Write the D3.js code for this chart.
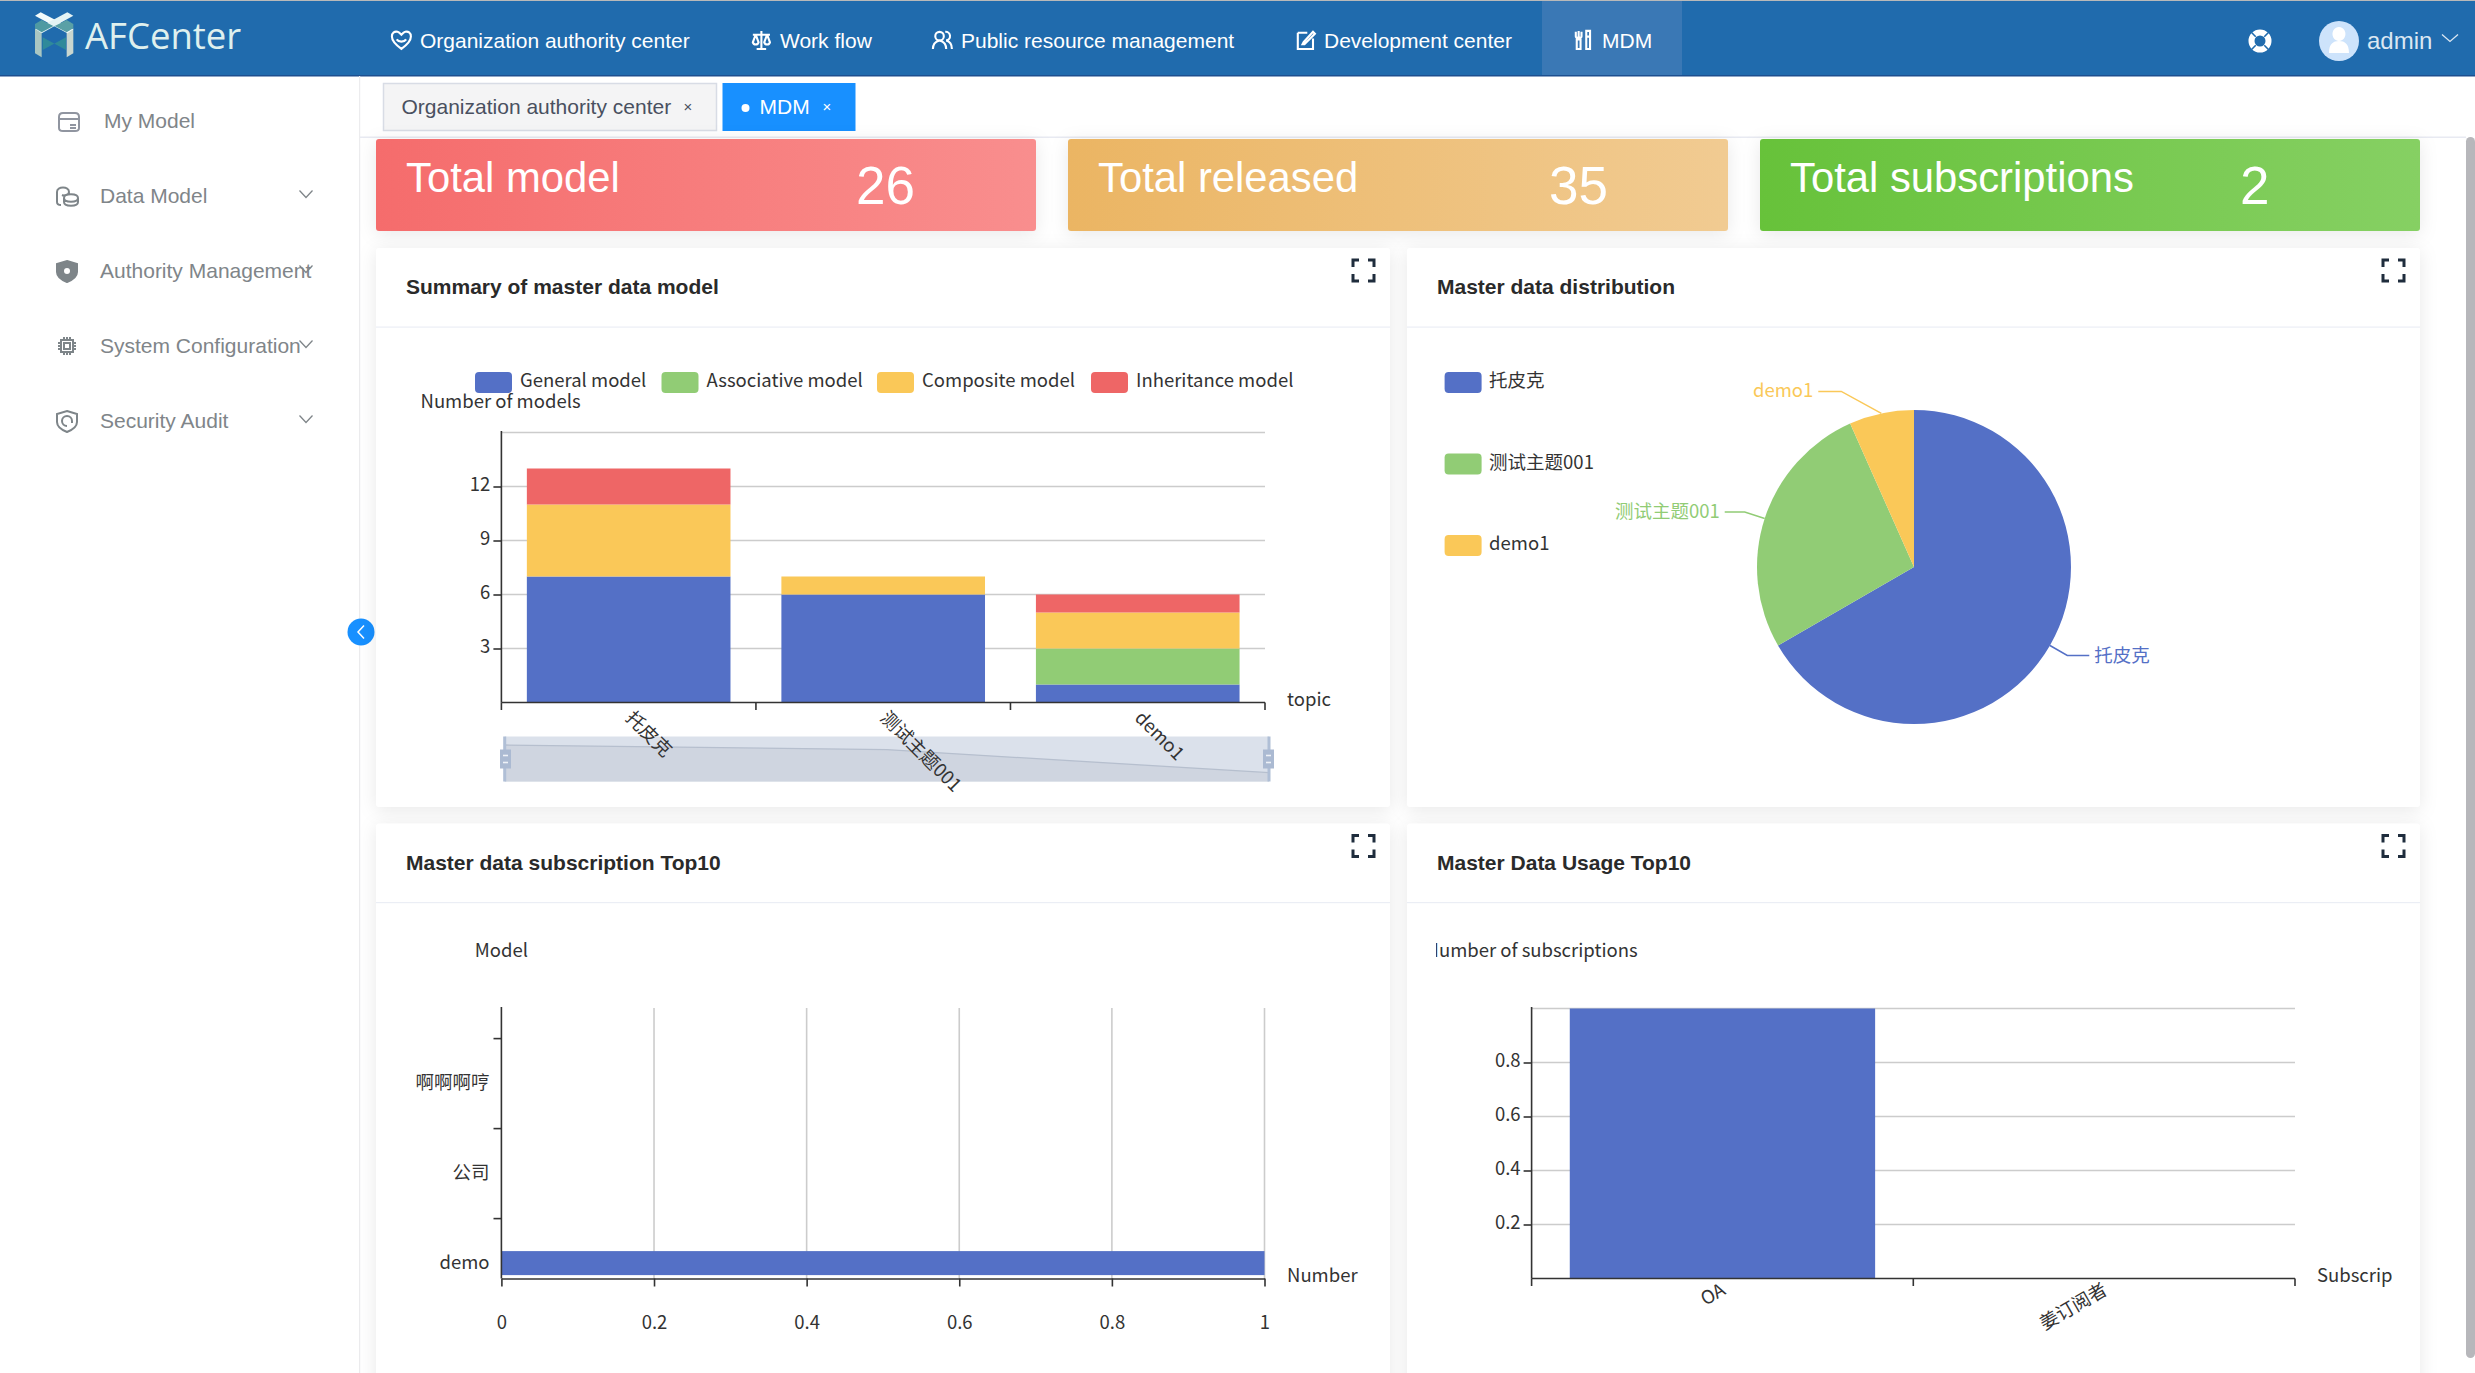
<!DOCTYPE html>
<html>
<head>
<meta charset="utf-8">
<script src="https://cdn.jsdelivr.net/npm/d3@7"></script>
<style>
  html, body { margin: 0; padding: 0; background: #fff; overflow: hidden; }
  svg { display: block; }
  .ui { font-family: "Liberation Sans", Arial, sans-serif; }
  .ch { font-family: "Noto Sans CJK SC", "Noto Sans", sans-serif; font-size: 18.5px; fill: #333; }
  .ch text { font-family: "Noto Sans CJK SC", "Noto Sans", sans-serif; font-size: 18.5px; fill: #333; }
  .card { filter: drop-shadow(0 3px 9px rgba(0,0,0,.09)); }
</style>
</head>
<body>
<svg id="page" width="2475" height="1373"></svg>
<script>
// chart values
const modelTypes = ["General model", "Associative model", "Composite model", "Inheritance model"]
const topics = ["托皮克", "测试主题001", "demo1"]
const generalModel = [7, 6, 1]
const associativeModel = [0, 0, 2]
const compositeModel = [4, 1, 2]
const inheritanceModel = [2, 0, 1]
const summaryTicks = [3, 6, 9, 12]
const summaryGrid = [3, 6, 9, 12, 15]

const pieNames = ["托皮克", "测试主题001", "demo1"]
const pieValues = [10, 4, 1]

const subModels = ["demo", "公司", "啊啊啊哼"]
const subValues = [1, 0, 0]
const subTicks = [0, 0.2, 0.4, 0.6, 0.8, 1]

const usageNames = ["OA", "姜订阅者"]
const usageValues = [1, 0]
const usageTicks = [0.2, 0.4, 0.6, 0.8]
const usageGrid = [0.2, 0.4, 0.6, 0.8, 1]

const statLabels = ["Total model", "Total released", "Total subscriptions"]
const statValues = [26, 35, 2]

const navLabels = ["Organization authority center", "Work flow", "Public resource management", "Development center", "MDM"]
const menuLabels = ["My Model", "Data Model", "Authority Management", "System Configuration", "Security Audit"]

const typeColor = d3.scaleOrdinal().domain(modelTypes).range(["#5470c6", "#91cc75", "#fac858", "#ee6666"])
const pieColor = d3.scaleOrdinal().domain(pieNames).range(["#5470c6", "#91cc75", "#fac858"])

const svg = d3.select("#page")
const defs = svg.append("defs")

function label(g, x, y, s, o = {}) {
  return g.append("text")
    .attr("x", x).attr("y", y)
    .attr("text-anchor", o.anchor || "start")
    .attr("dominant-baseline", o.central ? "central" : null)
    .style("fill", o.fill || null)
    .text(s)
}

function gradient(id, a, b) {
  const gr = defs.append("linearGradient").attr("id", id)
  gr.append("stop").attr("offset", 0).attr("stop-color", a)
  gr.append("stop").attr("offset", 1).attr("stop-color", b)
}
gradient("gRed", "#f56c6c", "#f98e8e")
gradient("gOrange", "#ebb563", "#f1cb92")
gradient("gGreen", "#67c23a", "#86d063")

defs.append("clipPath").attr("id", "usageCanvas")
  .append("rect").attr("x", 1436).attr("y", 900).attr("width", 956).attr("height", 470)

/* ---------- page chrome ---------- */
const chrome = svg.append("g").attr("class", "ui")

chrome.append("rect").attr("width", 2475).attr("height", 1).attr("fill", "#b9b9b9")
chrome.append("rect").attr("y", 1).attr("width", 2475).attr("height", 75).attr("fill", "#206bad")
chrome.append("rect").attr("y", 75).attr("width", 2475).attr("height", 1.5).attr("fill", "#1d4f8f")
chrome.append("rect").attr("x", 1542).attr("y", 1).attr("width", 140).attr("height", 74).attr("fill", "#3a78b5")

// logo
const logo = chrome.append("g").attr("transform", "translate(20,0) scale(0.3333)")
logo.append("path").attr("d", "M68 112L138 150V112L68 150Z").attr("fill", "#2f8a9a")
logo.append("path").attr("d", "M45 85L65 97V172L45 160Z").attr("fill", "#a9c6c2")
logo.append("path").attr("d", "M160 85L140 97V172L160 160Z").attr("fill", "#c9d6cf")
logo.append("path").attr("d", "M45 47L62 37L160 88L142 100Z").attr("fill", "#f2fbfb")
logo.append("path").attr("d", "M142 37L160 47L65 100L47 88Z").attr("fill", "#e4f3f4")
logo.append("path").attr("d", "M65 97L100 78L65 60L45 72V85Z").attr("fill", "#4f9aa2")
logo.append("path").attr("d", "M140 97L104 78L140 60L160 72V85Z").attr("fill", "#5aa0a6")
chrome.append("text").attr("x", 85).attr("y", 49).attr("font-size", 36.500)
  .attr("font-family", "'Open Sans','Noto Sans',sans-serif").attr("fill", "#dff0ee").text("AFCenter")

// top navigation
const navX = [420, 780, 961, 1324, 1602]
const navIcons = [
  "M12 21C5 16 2 12 2 8C2 4 5 2 8 3C10 3.600 11 5 12 6C13 5 14 3.600 16 3C19 2 22 4 22 8C22 12 19 16 12 21ZM7 11C9 14 15 14 17 11",
  "M12 2V21M7 21H17M3 6H21M6 6L3 14C4 17 8 17 9 14L6 6M18 6L15 14C16 17 20 17 21 14L18 6",
  "M9 3A4.500 4.500 0 0 1 9 12A4.500 4.500 0 0 1 9 3ZM2 21C2 16 5 13 9 12C13 13 16 16 16 21M15 3A4.500 4.500 0 0 1 16 12C20 13 22 16 22 21",
  "M4 4H14M4 4V21H20V10M10 14L20 3L22 5L11 16L9 16Z",
  "M7 2V10M4 3V8C4 10 10 10 10 8V3M5 11H9V21H5ZM15 2H19V8H15ZM15 8V21H19V8",
]
navLabels.forEach((s, i) => {
  chrome.append("text").attr("x", navX[i]).attr("y", 48).attr("font-size", 21).attr("fill", "#fff").text(s)
  chrome.append("path").attr("d", navIcons[i])
    .attr("transform", `translate(${navX[i] - 30},29) scale(0.95)`)
    .attr("fill", "none").attr("stroke", "#fff").attr("stroke-width", 2.2)
})

// settings, avatar, user name
const gear = chrome.append("g").attr("transform", "translate(2260,41)")
gear.append("circle").attr("r", 8.500).attr("fill", "none").attr("stroke", "#fff").attr("stroke-width", 6)
gear.selectAll("line").data([0, 90, 180, 270]).join("line")
  .attr("x1", 6).attr("x2", 13).attr("stroke", "#206bad").attr("stroke-width", 1.6)
  .attr("transform", (d) => `rotate(${d + 45})`)
chrome.append("circle").attr("cx", 2339).attr("cy", 41).attr("r", 20).attr("fill", "#cde3fb")
chrome.append("path").attr("d", "M2339 27a6.500 7 0 1 1-.1 0ZM2329 53C2329 44 2333 41 2339 41C2345 41 2349 44 2349 53Z").attr("fill", "#fff")
chrome.append("text").attr("x", 2367).attr("y", 49).attr("font-size", 24).attr("fill", "#dbe7f2").text("admin")
const chevron = (g, x, y, c, w = 8) => g.append("path")
  .attr("d", `M${x - w} ${y - 3.500}L${x} ${y + 3.500}L${x + w} ${y - 3.500}`)
  .attr("fill", "none").attr("stroke", c).attr("stroke-width", 1.3)
chevron(chrome, 2450, 38, "#dbe7f2")

// side menu
chrome.append("rect").attr("x", 359).attr("y", 76).attr("width", 1.2).attr("height", 1297).attr("fill", "#ececee")
const menuY = [121, 196, 271, 346, 421]
const menuX = [104, 100, 100, 100, 100]
const menuIcons = [
  ["M3 8Q3 4 7 4H19Q23 4 23 8V19Q23 22 19 22H7Q3 22 3 19ZM3 10H23M14 16H20M14 19H20", false],
  ["M2 8C2 2 14 2 14 8C14 11 9 12 7 11M2 8V18C2 20 4 21 6 21M9 14C9 9 23 9 23 14C23 19 9 19 9 14ZM9 14V18C9 23 23 23 23 18V14", false],
  ["M12 2L22 5V13C22 18 17 21 12 23C7 21 2 18 2 13V5Z", true],
  ["M6 6H18V18H6ZM9 9H15V15H9ZM3 9H6M3 12H6M3 15H6M18 9H21M18 12H21M18 15H21M9 3V6M12 3V6M15 3V6M9 18V21M12 18V21M15 18V21", false],
  ["M12 2L22 5V13C22 18 17 21 12 23C7 21 2 18 2 13V5ZM12 17A5 5 0 1 1 17 12V14", false],
]
menuLabels.forEach((s, i) => {
  chrome.append("text").attr("x", menuX[i]).attr("y", menuY[i] + 7).attr("font-size", 21).attr("fill", "#808589").text(s)
  chrome.append("path").attr("d", menuIcons[i][0])
    .attr("transform", `translate(${i === 0 ? 56 : 55},${menuY[i] - 12})`)
    .attr("fill", menuIcons[i][1] ? "#7e8589" : "none").attr("stroke", i === 0 ? "#9095a0" : "#7e8589").attr("stroke-width", 2)
  if (i === 2) chrome.append("circle").attr("cx", 67).attr("cy", menuY[i]).attr("r", 3).attr("fill", "#fff")
  if (i > 0) chevron(chrome, 306, menuY[i] - 2, "#7f8589", 6.500)
})

// tabs bar
chrome.append("rect").attr("x", 360).attr("y", 136.500).attr("width", 2106).attr("height", 1.5).attr("fill", "#e8eaf2")
chrome.append("rect").attr("x", 383.500).attr("y", 83.500).attr("width", 333).attr("height", 47)
  .attr("fill", "#f4f4f5").attr("stroke", "#d8dce5").attr("stroke-width", 1.5)
chrome.append("text").attr("x", 401.500).attr("y", 114).attr("font-size", 21).attr("fill", "#495060").text(navLabels[0])
chrome.append("text").attr("x", 688).attr("y", 112).attr("font-size", 15).attr("text-anchor", "middle").attr("fill", "#495060").text("×")
chrome.append("rect").attr("x", 722.500).attr("y", 83).attr("width", 133).attr("height", 48).attr("fill", "#1890ff")
chrome.append("circle").attr("cx", 745.500).attr("cy", 108).attr("r", 4).attr("fill", "#fff")
chrome.append("text").attr("x", 759.500).attr("y", 114).attr("font-size", 21).attr("fill", "#fff").text("MDM")
chrome.append("text").attr("x", 827).attr("y", 112).attr("font-size", 15).attr("text-anchor", "middle").attr("fill", "#fff").text("×")

// collapse button
chrome.append("circle").attr("cx", 361).attr("cy", 632).attr("r", 13.500).attr("fill", "#1890ff")
chrome.append("path").attr("d", "M364 625.500L358 632L364 638.500").attr("fill", "none").attr("stroke", "#fff").attr("stroke-width", 1.5)

// scrollbar
chrome.append("rect").attr("x", 2466).attr("y", 137).attr("width", 9).attr("height", 1221).attr("rx", 4.500).attr("fill", "#b7b7bb")

/* ---------- stat cards ---------- */
const statX = [376, 1068, 1760]
const statW = [660, 660, 660]
const statFill = ["url(#gRed)", "url(#gOrange)", "url(#gGreen)"]
const statNumX = [856, 1549, 2240]
statLabels.forEach((s, i) => {
  chrome.append("rect").attr("class", "card").attr("x", statX[i]).attr("y", 139).attr("width", statW[i]).attr("height", 92)
    .attr("rx", 3).attr("fill", statFill[i])
  chrome.append("text").attr("x", statX[i] + 30).attr("y", 192).attr("font-size", 41.800).attr("fill", "#fff").text(s)
  chrome.append("text").attr("x", statNumX[i]).attr("y", 204).attr("font-size", 53).attr("fill", "#fff").text(statValues[i])
})

/* ---------- panels ---------- */
const panelRows = [
  { x: 376, y: 248, w: 1014, h: 559, title: "Summary of master data model" },
  { x: 1407, y: 248, w: 1013, h: 559, title: "Master data distribution" },
  { x: 376, y: 823.500, w: 1014, h: 580, title: "Master data subscription Top10" },
  { x: 1407, y: 823.500, w: 1013, h: 580, title: "Master Data Usage Top10" },
]
panelRows.forEach((p, i) => {
  chrome.append("rect").attr("class", "card").attr("x", p.x).attr("y", p.y).attr("width", p.w).attr("height", p.h)
    .attr("rx", 3).attr("fill", "#fff")
  chrome.append("rect").attr("x", p.x).attr("y", p.y + 78.500).attr("width", p.w).attr("height", 1.2).attr("fill", "#ebeef5")
  chrome.append("text").attr("x", p.x + 30).attr("y", p.y + 45.500 + (i > 1 ? 1 : 0)).attr("font-size", 21).attr("font-weight", "bold")
    .attr("fill", "#2a2a2a").text(p.title)
  const fx = p.x + p.w - 37, fy = p.y + 12
  chrome.append("path")
    .attr("d", `M${fx} ${fy + 7}V${fy}H${fx + 6}M${fx + 15} ${fy}H${fx + 21}V${fy + 7}M${fx} ${fy + 14}V${fy + 21}H${fx + 6}M${fx + 15} ${fy + 21}H${fx + 21}V${fy + 14}`)
    .attr("fill", "none").attr("stroke", "#1f2d3d").attr("stroke-width", 3)
})

/* ---------- shared axis styling ---------- */
function styleAxis(g) {
  g.selectAll(".domain").attr("stroke", "#333").attr("stroke-width", 1.6)
  g.selectAll(".tick line").attr("stroke", "#333").attr("stroke-width", 1.6)
  g.selectAll("text").attr("font-size", null).attr("font-family", null)
}
function hGrid(g, values, y, x0, x1) {
  g.append("g").selectAll("line").data(values).join("line")
    .attr("x1", x0).attr("x2", x1)
    .attr("y1", (d) => y(d)).attr("y2", (d) => y(d))
    .attr("stroke", "#ccc").attr("stroke-width", 1.6)
}
function legend(g, items, color, xs, ys, textGap) {
  const row = g.append("g").selectAll("g").data(items).join("g")
    .attr("transform", (d, i) => `translate(${xs[i]},${ys[i]})`)
  row.append("rect").attr("width", 37).attr("height", 21).attr("rx", 4).attr("fill", (d) => color(d))
  row.append("text").attr("x", textGap).attr("y", 7).attr("dominant-baseline", "central").text((d) => d)
}

/* ---------- summary of master data model ---------- */
// slider sits under the chart group, the rotated axis names run across it
const zoomG = svg.append("g")
const sum = svg.append("g").attr("class", "ch")
const sumX = d3.scaleBand().domain(topics).range([501.400, 1265]).paddingInner(0.2).paddingOuter(0.1)
const sumY = d3.scaleLinear().domain([0, 15]).range([702.500, 432.500])
const sumEdges = d3.range(topics.length + 1).map((i) => 501.400 + i * sumX.step())

legend(sum, modelTypes, typeColor, [475, 661.500, 877, 1091], [372, 372, 372, 372], 45)
label(sum, 420.500, 399.500, "Number of models", { central: true })
label(sum, 1287, 698, "topic", { central: true })

hGrid(sum, summaryGrid, sumY, 501.400, 1265)

const sumRows = topics.map((t, i) => ({
  topic: t,
  [modelTypes[0]]: generalModel[i],
  [modelTypes[1]]: associativeModel[i],
  [modelTypes[2]]: compositeModel[i],
  [modelTypes[3]]: inheritanceModel[i],
}))
sum.append("g").selectAll("g").data(d3.stack().keys(modelTypes)(sumRows)).join("g")
  .attr("fill", (d) => typeColor(d.key))
  .selectAll("rect").data((d) => d).join("rect")
  .attr("x", (d) => sumX(d.data.topic))
  .attr("width", sumX.bandwidth())
  .attr("y", (d) => sumY(d[1]))
  .attr("height", (d) => sumY(d[0]) - sumY(d[1]))

// data zoom slider
const zoomX = d3.scalePoint().domain(topics).range([504.700, 1269])
const zoomY = d3.scaleLinear().domain([0, 7]).range([777.300, 745])
zoomG.append("rect").attr("x", 504.700).attr("y", 736.500).attr("width", 764.300).attr("height", 45).attr("fill", "#dbe1eb")
zoomG.append("path").datum(generalModel)
  .attr("d", d3.area().x((d, i) => zoomX(topics[i])).y0(781.500).y1((d) => zoomY(d)))
  .attr("fill", "#cfd5e0")
zoomG.append("path").datum(generalModel)
  .attr("d", d3.line().x((d, i) => zoomX(topics[i])).y((d) => zoomY(d)))
  .attr("fill", "none").attr("stroke", "#b6bfce").attr("stroke-width", 1.3)
zoomG.selectAll(".edge").data([504.700, 1269]).join("rect").attr("class", "edge")
  .attr("x", (d) => d - 1.500).attr("y", 736.500).attr("width", 3).attr("height", 45).attr("fill", "#b0bfd6")
const grips = zoomG.selectAll(".grip").data([505.500, 1268.500]).join("g").attr("class", "grip")
  .attr("transform", (d) => `translate(${d},759)`)
grips.append("rect").attr("x", -5.500).attr("y", -9.500).attr("width", 11).attr("height", 19).attr("fill", "#abbad2")
grips.selectAll("line").data([-3.500, 3.500]).join("line")
  .attr("x1", -2.500).attr("x2", 2.500).attr("y1", (d) => d).attr("y2", (d) => d)
  .attr("stroke", "#eef2f7").attr("stroke-width", 1.6)

const sumAxisY = sum.append("g").attr("transform", "translate(501.400,0)")
  .call(d3.axisLeft(sumY).tickValues(summaryTicks).tickFormat((d) => d).tickSize(8).tickPadding(3))
styleAxis(sumAxisY)
sumAxisY.selectAll("text").attr("dy", "0.24em")
sumAxisY.select(".domain").attr("d", "M0 431V702.500")

const sumAxisX = sum.append("g")
sumAxisX.append("line").attr("x1", 501.400).attr("x2", 1265).attr("y1", 702.500).attr("y2", 702.500)
  .attr("stroke", "#333").attr("stroke-width", 1.6)
sumAxisX.selectAll(".e").data(sumEdges).join("line").attr("class", "e")
  .attr("x1", (d) => d).attr("x2", (d) => d).attr("y1", 702.500).attr("y2", 710)
  .attr("stroke", "#333").attr("stroke-width", 1.6)
sumAxisX.selectAll("text").data(topics).join("text")
  .attr("transform", (d) => `translate(${sumX(d) + sumX.bandwidth() / 2 + 8},707) rotate(45)`)
  .attr("dominant-baseline", "hanging")
  .text((d) => d)

/* ---------- master data distribution ---------- */
const dist = svg.append("g").attr("class", "ch")
legend(dist, pieNames, pieColor, [1444.600, 1444.600, 1444.600], [372, 453.500, 535], 44.500)

const pieCx = 1914, pieCy = 567, pieR = 157
const arcs = d3.pie().sort(null)(pieValues)
const pieArc = d3.arc().innerRadius(0).outerRadius(pieR)
const pieG = dist.append("g").attr("transform", `translate(${pieCx},${pieCy})`)
pieG.selectAll("path").data(arcs).join("path")
  .attr("d", pieArc)
  .attr("fill", (d, i) => pieColor(pieNames[i]))

// leader lines: [elbow radius, elbow angle shift in degrees, horizontal run]
const leaderBend = [[177, 0, 22], [178, 0, -20], [190, -10.500, -23]]
arcs.forEach((a, i) => {
  const mid = (a.startAngle + a.endAngle) / 2
  const start = [pieR * Math.sin(mid), -pieR * Math.cos(mid)]
  const ang = mid + (leaderBend[i][1] * Math.PI) / 180
  const elbow = [leaderBend[i][0] * Math.sin(ang), -leaderBend[i][0] * Math.cos(ang)]
  const end = [elbow[0] + leaderBend[i][2], elbow[1]]
  pieG.append("path").attr("d", d3.line()([start, elbow, end]))
    .attr("fill", "none").attr("stroke", pieColor(pieNames[i])).attr("stroke-width", 1.5)
  const right = leaderBend[i][2] > 0
  pieG.append("text").attr("x", end[0] + (right ? 5 : -5)).attr("y", elbow[1] - 2)
    .attr("text-anchor", right ? "start" : "end").attr("dominant-baseline", "central")
    .style("fill", pieColor(pieNames[i])).text(pieNames[i])
})

/* ---------- subscription top 10 ---------- */
const sub = svg.append("g").attr("class", "ch")
const subX = d3.scaleLinear().domain([0, 1]).range([501.400, 1264.500])
const subY = d3.scaleBand().domain(subModels).range([1308.600, 1038.600])
const subBarSize = 24

sub.append("g").selectAll("line").data(subTicks.slice(1)).join("line")
  .attr("x1", (d) => subX(d)).attr("x2", (d) => subX(d)).attr("y1", 1008).attr("y2", 1278.500)
  .attr("stroke", "#ccc").attr("stroke-width", 1.6)

sub.append("g").selectAll("rect").data(subModels).join("rect")
  .attr("x", subX(0))
  .attr("y", (d) => subY(d) + subY.bandwidth() / 2 - subBarSize / 2 - 0.500)
  .attr("width", (d, i) => subX(subValues[i]) - subX(0))
  .attr("height", subBarSize)
  .attr("fill", typeColor(modelTypes[0]))

const subAxisX = sub.append("g").attr("transform", "translate(0,1278.500)")
  .call(d3.axisBottom(subX).tickValues(subTicks).tickFormat((d) => d).tickSize(8).tickPadding(29).tickSizeOuter(0))
styleAxis(subAxisX)

const subAxisY = sub.append("g")
subAxisY.append("line").attr("x1", 501.400).attr("x2", 501.400).attr("y1", 1007).attr("y2", 1278.500)
  .attr("stroke", "#333").attr("stroke-width", 1.6)
subAxisY.selectAll(".t").data(subModels).join("line").attr("class", "t")
  .attr("x1", 493.500).attr("x2", 501.400).attr("y1", (d) => subY(d)).attr("y2", (d) => subY(d))
  .attr("stroke", "#333").attr("stroke-width", 1.6)
subAxisY.selectAll("text").data(subModels).join("text")
  .attr("x", 489.500).attr("y", (d) => subY(d) + subY.bandwidth() / 2 - 3)
  .attr("text-anchor", "end").attr("dominant-baseline", "central")
  .text((d) => d)
label(sub, 501.400, 949, "Model", { central: true, anchor: "middle" })
label(sub, 1287, 1274, "Number", { central: true })

/* ---------- usage top 10 ---------- */
const use = svg.append("g").attr("class", "ch")
const useX = d3.scaleBand().domain(usageNames).range([1531.600, 2295]).paddingInner(0.2).paddingOuter(0.1)
const useY = d3.scaleLinear().domain([0, 1]).range([1278.500, 1008.500])
const useEdges = d3.range(usageNames.length + 1).map((i) => 1531.600 + i * useX.step())

hGrid(use, usageGrid, useY, 1531.600, 2295)

use.append("g").selectAll("rect").data(usageNames).join("rect")
  .attr("x", (d) => useX(d))
  .attr("width", useX.bandwidth())
  .attr("y", (d, i) => useY(usageValues[i]))
  .attr("height", (d, i) => useY(0) - useY(usageValues[i]))
  .attr("fill", typeColor(modelTypes[0]))

const useAxisY = use.append("g").attr("transform", "translate(1531.600,0)")
  .call(d3.axisLeft(useY).tickValues(usageTicks).tickFormat((d) => d).tickSize(8).tickPadding(3))
styleAxis(useAxisY)
useAxisY.selectAll("text").attr("dy", "0.24em")
useAxisY.select(".domain").attr("d", "M0 1007V1278.500")

const useAxisX = use.append("g")
useAxisX.append("line").attr("x1", 1531.600).attr("x2", 2295).attr("y1", 1278.500).attr("y2", 1278.500)
  .attr("stroke", "#333").attr("stroke-width", 1.6)
useAxisX.selectAll(".e").data(useEdges).join("line").attr("class", "e")
  .attr("x1", (d) => d).attr("x2", (d) => d).attr("y1", 1278.500).attr("y2", 1286)
  .attr("stroke", "#333").attr("stroke-width", 1.6)
useAxisX.selectAll("text").data(usageNames).join("text")
  .attr("transform", (d) => `translate(${useX(d) + useX.bandwidth() / 2 - 4},1279) rotate(-30)`)
  .attr("text-anchor", "end").attr("dominant-baseline", "hanging")
  .text((d) => d)

// these two names run past the canvas in the original, so they get cut the same way
const useNames = use.append("g").attr("clip-path", "url(#usageCanvas)")
label(useNames, 1531.600, 949, "Number of subscriptions", { central: true, anchor: "middle" })
label(useNames, 2317, 1274, "Subscription", { central: true })
</script>
</body>
</html>
